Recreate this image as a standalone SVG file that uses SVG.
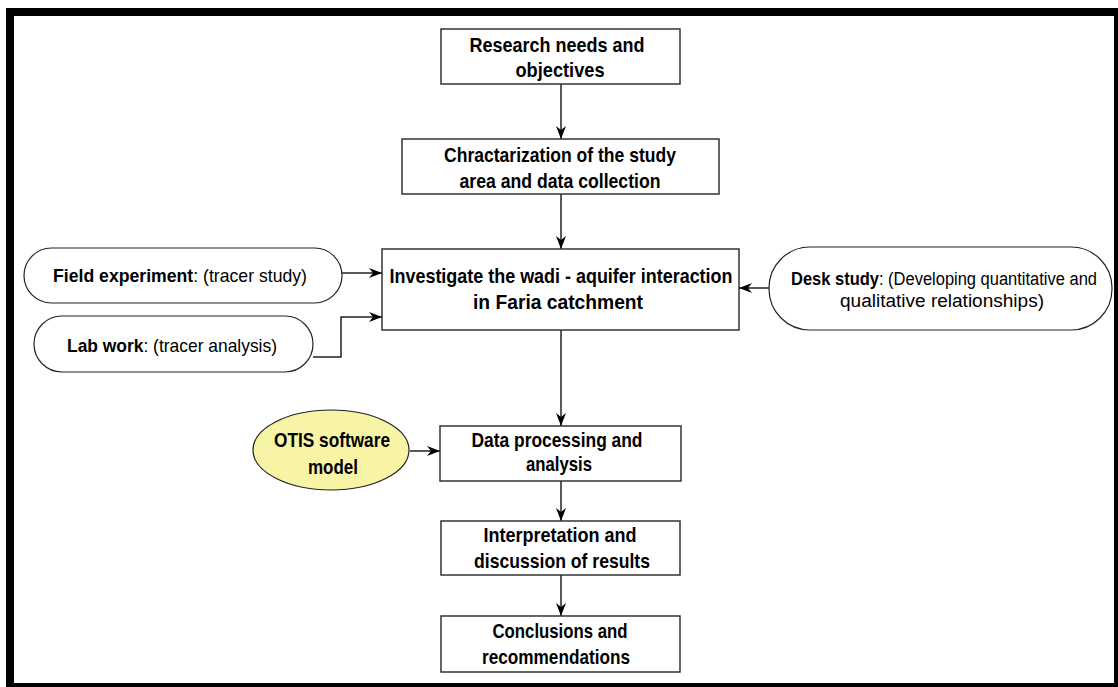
<svg xmlns="http://www.w3.org/2000/svg" width="1118" height="687" viewBox="0 0 1118 687">
<defs>
<style>
.box{fill:#fff;stroke:#333;stroke-width:1.5}
.pill{fill:#fff;stroke:#222;stroke-width:1.2}
.t{font-family:"Liberation Sans",Arial,sans-serif;font-weight:bold;font-size:21px;fill:#000;text-anchor:middle}
.p{font-family:"Liberation Sans",Arial,sans-serif;font-size:19px;fill:#000;text-anchor:middle}
.d{font-size:18px}
.b{font-weight:bold}
.c{fill:none;stroke:#222;stroke-width:1.5;marker-end:url(#ah)}
</style>
<marker id="ah" viewBox="-14 -6 15 12" markerWidth="15" markerHeight="12" refX="0" refY="0" orient="auto" markerUnits="userSpaceOnUse">
<path d="M0,0 L-13,-5 L-9,0 L-13,5 Z" fill="#000"/>
</marker>
</defs>
<rect x="0" y="0" width="1118" height="687" fill="#fff"/>
<path d="M6,8 H1118 V687 H6 Z M14,16 V683 H1114 V16 Z" fill="#000" fill-rule="evenodd"/>

<g id="connectors">
<line class="c" x1="561" y1="84" x2="561" y2="139"/>
<line class="c" x1="561" y1="194" x2="561" y2="249"/>
<line class="c" x1="561" y1="330" x2="561" y2="426"/>
<line class="c" x1="561" y1="481" x2="561" y2="521"/>
<line class="c" x1="561" y1="575" x2="561" y2="616"/>
<line class="c" x1="342" y1="273" x2="382" y2="273"/>
<polyline class="c" points="313,357 341,357 341,317 382,317"/>
<line class="c" x1="769" y1="288" x2="739" y2="288"/>
<line class="c" x1="410" y1="451" x2="440" y2="451"/>
</g>

<g id="research">
<rect class="box" x="441" y="29" width="239" height="55"/>
<text class="t" x="557" y="52" textLength="175" lengthAdjust="spacingAndGlyphs">Research needs and</text>
<text class="t" x="560" y="77" textLength="89" lengthAdjust="spacingAndGlyphs">objectives</text>
</g>

<g id="characterization">
<rect class="box" x="402" y="139" width="317" height="55"/>
<text class="t" x="560" y="162" textLength="232" lengthAdjust="spacingAndGlyphs">Chractarization of the study</text>
<text class="t" x="560" y="188" textLength="201" lengthAdjust="spacingAndGlyphs">area and data collection</text>
</g>

<g id="investigate">
<rect class="box" x="382" y="249" width="357" height="81"/>
<text class="t" x="561" y="283" textLength="343" lengthAdjust="spacingAndGlyphs">Investigate the wadi - aquifer interaction</text>
<text class="t" x="558" y="309" textLength="170" lengthAdjust="spacingAndGlyphs">in Faria catchment</text>
</g>

<g id="field">
<rect class="pill" x="24" y="248" width="318" height="55" rx="27.5"/>
<text class="p" x="180" y="282" textLength="254" lengthAdjust="spacingAndGlyphs"><tspan class="b">Field experiment</tspan>: (tracer study)</text>
</g>

<g id="lab">
<rect class="pill" x="34" y="316" width="279" height="56" rx="28"/>
<text class="p" x="172" y="352" textLength="210" lengthAdjust="spacingAndGlyphs"><tspan class="b">Lab work</tspan>: (tracer analysis)</text>
</g>

<g id="desk">
<rect class="pill" x="769" y="247" width="343" height="83" rx="41"/>
<text class="p d" x="944" y="285" textLength="306" lengthAdjust="spacingAndGlyphs"><tspan class="b">Desk study</tspan>: (Developing quantitative and</text>
<text class="p d" x="942" y="307" textLength="204" lengthAdjust="spacingAndGlyphs">qualitative relationships)</text>
</g>

<g id="otis">
<ellipse cx="331" cy="450" rx="78" ry="40" fill="#f8f4a6" stroke="#222" stroke-width="1.2"/>
<text class="t" x="332" y="447" textLength="116" lengthAdjust="spacingAndGlyphs">OTIS software</text>
<text class="t" x="333" y="474" textLength="50" lengthAdjust="spacingAndGlyphs">model</text>
</g>

<g id="processing">
<rect class="box" x="440" y="426" width="241" height="55"/>
<text class="t" x="557" y="447" textLength="171" lengthAdjust="spacingAndGlyphs">Data processing and</text>
<text class="t" x="559" y="471" textLength="66" lengthAdjust="spacingAndGlyphs">analysis</text>
</g>

<g id="interpretation">
<rect class="box" x="441" y="521" width="239" height="54"/>
<text class="t" x="560" y="542" textLength="153" lengthAdjust="spacingAndGlyphs">Interpretation and</text>
<text class="t" x="562" y="568" textLength="176" lengthAdjust="spacingAndGlyphs">discussion of results</text>
</g>

<g id="conclusions">
<rect class="box" x="441" y="616" width="239" height="56"/>
<text class="t" x="560" y="638" textLength="135" lengthAdjust="spacingAndGlyphs">Conclusions and</text>
<text class="t" x="556" y="664" textLength="148" lengthAdjust="spacingAndGlyphs">recommendations</text>
</g>
</svg>
